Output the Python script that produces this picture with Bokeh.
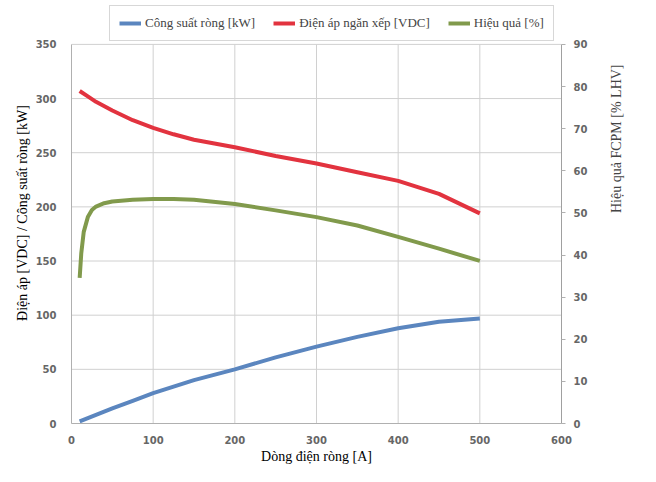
import math
from bokeh.plotting import figure
from bokeh.models import Range1d, LinearAxis, Legend, LegendItem, FixedTicker
from bokeh.embed import file_html
from bokeh.resources import INLINE

# Data
current = [10, 20, 30, 50, 75, 100, 125, 150, 200, 250, 300, 350, 400, 450, 500]
power_kw = [2, 5, 8, 14, 21, 28, 34, 40, 50, 61, 71, 80, 88, 94, 97]
voltage = [307, 302, 297, 289, 280, 273, 267, 262, 255, 247, 240, 232, 224, 212, 194]
eff_x = [10, 12, 15, 20, 25, 30, 40, 50, 75, 100, 125, 150, 200, 250, 300, 350, 400, 450, 500]
efficiency = [34.6, 40.5, 45.5, 49.0, 50.7, 51.5, 52.3, 52.7, 53.1, 53.3, 53.3, 53.1, 52.1, 50.6, 49.0, 47.0, 44.3, 41.5, 38.6]

x_ticks = [0, 100, 200, 300, 400, 500, 600]
left_ticks = [0, 50, 100, 150, 200, 250, 300, 350]
right_ticks = [0, 10, 20, 30, 40, 50, 60, 70, 80, 90]
X_MIN, X_MAX = 0, 600
LEFT_MAX = 350
RIGHT_MAX = 90

BLUE = "#5b86bf"
RED = "#e2333f"
GREEN = "#819a4c"
TICK_COLOR = "#666666"
AXIS_GRAY = "#b0b0b0"
GRID_GRAY = "#d0d0d0"
SERIF = "Liberation Serif"
SANS = "DejaVu Sans"

# Frame reaches above the data area so the legend (inside the frame) is not clipped
PLOT_PX = 380      # pixel height of the 0..350 data area
EXTRA_PX = 42      # room above it for the legend
ext = (PLOT_PX + EXTRA_PX) / PLOT_PX

p = figure(width=640, height=466, output_backend="svg", toolbar_location=None,
           x_range=Range1d(X_MIN, X_MAX), y_range=Range1d(0, LEFT_MAX * ext),
           min_border_left=71, min_border_right=79, min_border_top=2, min_border_bottom=42)
p.extra_y_ranges = {"eff": Range1d(0, RIGHT_MAX * ext)}

p.outline_line_color = None
p.xgrid.visible = False
p.ygrid.visible = False
p.xaxis.ticker = FixedTicker(ticks=x_ticks)
p.yaxis.ticker = FixedTicker(ticks=left_ticks)
p.yaxis.bounds = (0, LEFT_MAX)

# grid lines limited to the data area, built from the tick lists
p.segment(x0=x_ticks, y0=[0] * len(x_ticks), x1=x_ticks, y1=[LEFT_MAX] * len(x_ticks),
          line_color=GRID_GRAY, line_width=1)
p.segment(x0=[X_MIN] * len(left_ticks), y0=left_ticks, x1=[X_MAX] * len(left_ticks), y1=left_ticks,
          line_color=GRID_GRAY, line_width=1)

for ax in (p.xaxis[0], p.yaxis[0]):
    ax.axis_line_color = AXIS_GRAY
    ax.major_tick_line_color = None
    ax.minor_tick_line_color = None
    ax.major_label_text_color = TICK_COLOR
    ax.major_label_text_font = SANS
    ax.major_label_text_font_style = "bold"
    ax.major_label_text_font_size = "10px"
    ax.axis_label_text_font = SERIF
    ax.axis_label_text_font_style = "normal"
    ax.axis_label_text_font_size = "14px"
    ax.axis_label_text_color = "black"

p.xaxis.axis_label = "Dòng điện ròng [A]"
p.xaxis.major_label_standoff = 6
p.xaxis.axis_label_standoff = 2
p.yaxis.axis_label = "Điện áp [VDC] / Công suất ròng [kW]"
p.yaxis.major_label_standoff = 9
p.yaxis.axis_label_standoff = 3

raxis = LinearAxis(y_range_name="eff", ticker=FixedTicker(ticks=right_ticks),
                   axis_label="Hiệu quả FCPM [% LHV]", bounds=(0, RIGHT_MAX))
raxis.axis_line_color = "#a0a0a0"
raxis.major_tick_line_color = AXIS_GRAY
raxis.major_tick_in = 0
raxis.major_tick_out = 4
raxis.minor_tick_line_color = None
raxis.major_label_text_color = TICK_COLOR
raxis.major_label_text_font = SANS
raxis.major_label_text_font_style = "bold"
raxis.major_label_text_font_size = "10px"
raxis.major_label_standoff = 8
raxis.axis_label_text_font = SERIF
raxis.axis_label_text_font_style = "normal"
raxis.axis_label_text_font_size = "14px"
raxis.axis_label_standoff = 26
raxis.axis_label_orientation = math.pi / 2
p.add_layout(raxis, "right")

r_blue = p.line(current, power_kw, line_color=BLUE, line_width=4)
r_red = p.line(current, voltage, line_color=RED, line_width=4)
r_green = p.line(eff_x, efficiency, line_color=GREEN, line_width=4, y_range_name="eff")

legend = Legend(items=[
    LegendItem(label="Công suất ròng [kW]", renderers=[r_blue]),
    LegendItem(label="Điện áp ngăn xếp [VDC]", renderers=[r_red]),
    LegendItem(label="Hiệu quả [%]", renderers=[r_green]),
], orientation="horizontal", location=(38, PLOT_PX + 2))
legend.label_text_font = SERIF
legend.label_text_font_size = "13px"
legend.label_standoff = 4
legend.glyph_width = 22
legend.glyph_height = 12
legend.spacing = 18
legend.padding = 9
legend.margin = 0
legend.label_height = 12
legend.border_line_color = AXIS_GRAY
legend.border_line_width = 1
legend.background_fill_alpha = 1
p.add_layout(legend, "center")

open("out.html", "w").write(file_html(p, INLINE))
